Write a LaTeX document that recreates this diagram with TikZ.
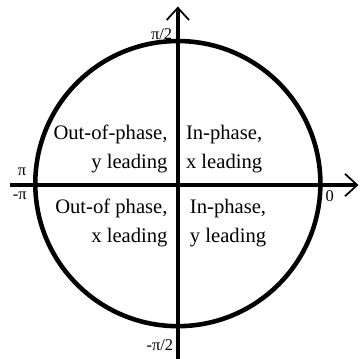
\documentclass[tikz,border=0pt]{standalone}
\usepackage{fontspec}
\setmainfont{Liberation Serif}
\usetikzlibrary{arrows.meta}

\tikzset{
    quadtext/.style = {inner sep=0pt, font=\fontsize{16.3}{23}\selectfont},
    anglabel/.style = {inner sep=0pt, font=\fontsize{13}{15}\selectfont},
    axis/.style = {line width=3.4pt, -{Straight Barb[length=3.4mm, width=6.2mm, line width=1.4pt]}}
}

\begin{document}
\begin{tikzpicture}

    \useasboundingbox (-4.94, -4.83) rectangle (5.06, 5.14);

    % --- Coordinates ---
    \coordinate (o) at (0, 0);
    \coordinate (xl) at (-4.67, 0);
    \coordinate (xr) at (5.02, 0);
    \coordinate (yb) at (0, -4.83);
    \coordinate (yt) at (0, 4.96);

    % --- Unit circle ---
    \draw[line width=3.6pt] (0, 0.04) circle (3.96);

    % --- Axes ---
    \draw[axis] (xl) -- (xr);
    \draw[axis] (yb) -- (yt);

    % --- Angle labels ---
    \node[anglabel] (half) at (-0.45, 4.2) {π/2};
    \node[anglabel] (pi) at (-4.33, 0.36) {π};
    \node[anglabel] (mpi) at (-4.39, -0.29) {-π};
    \node[anglabel] (zero) at (4.22, -0.31) {0};
    \node[anglabel] (mhalf) at (-0.5, -4.45) {-π/2};

    % --- Quadrants ---
    \node[quadtext, align=right, anchor=east] (q2) at (-0.28, 1.0) {Out-of-phase,\\y leading};
    \node[quadtext, align=left, anchor=west] (q1) at (0.22, 1.0) {In-phase,\\x leading};
    \node[quadtext, align=right, anchor=east] (q3) at (-0.28, -1.05) {Out-of phase,\\x leading};
    \node[quadtext, align=left, anchor=west] (q4) at (0.33, -1.05) {In-phase,\\y leading};

\end{tikzpicture}
\end{document}
